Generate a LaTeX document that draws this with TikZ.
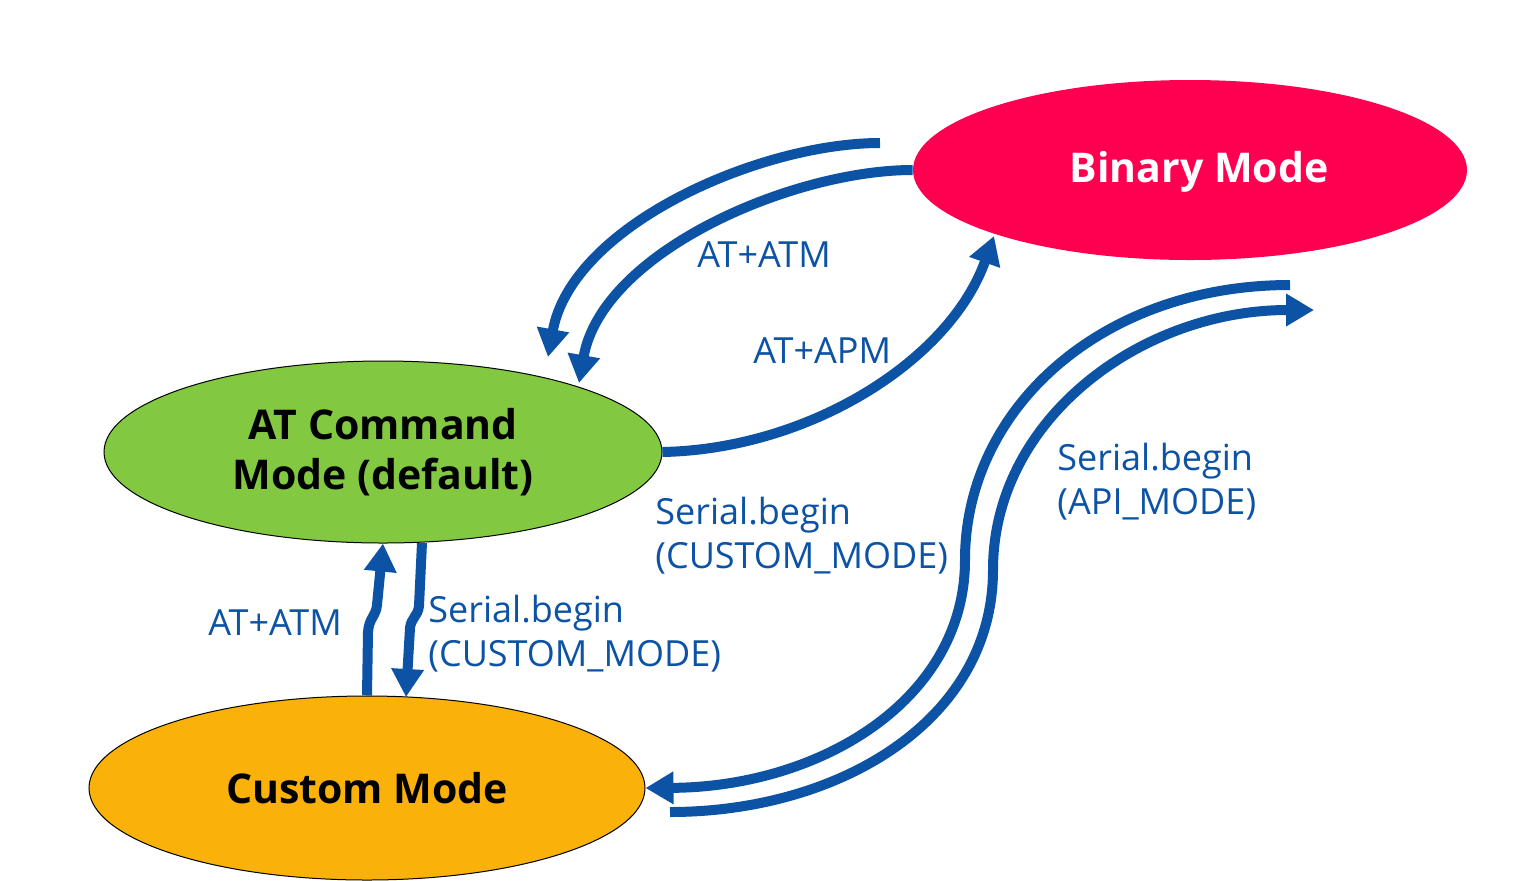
\documentclass[tikz,border=0pt]{standalone}
\usepackage{fontspec}
\setmainfont{Open Sans}
\usetikzlibrary{arrows.meta,shapes.geometric}
\definecolor{arrblue}{RGB}{12,82,165}
\definecolor{binred}{RGB}{255,0,80}
\definecolor{atgreen}{RGB}{130,201,65}
\definecolor{custorange}{RGB}{250,177,10}
\tikzset{
  modebox/.style={ellipse, inner sep=0pt, font=\fontsize{20.5}{25}\selectfont\bfseries, align=center},
  flow/.style={draw=arrblue, line width=5pt, -{Triangle[width=15.5pt,length=14pt]}},
  flowlabel/.style={text=arrblue, font=\fontsize{18}{22}\selectfont, align=left, anchor=base west, inner sep=0pt},
}
\begin{document}
\begin{tikzpicture}[x=0.5pt,y=-0.5pt]
\useasboundingbox (0,0) rectangle (1517,880);
% ellipses
\node[modebox, fill=binred, text=white, minimum width=277pt, minimum height=90pt] (binary) at (1190,170) {};
\node[font=\fontsize{20.5}{25}\selectfont\bfseries, text=white, inner sep=0pt] (bintext) at (1199,172) {Binary Mode};
\node[modebox, fill=atgreen, draw=black, line width=0.5pt, text=black, minimum width=279pt, minimum height=91pt] (atc) at (383,452) {AT Command\\Mode (default)};
\node[modebox, fill=custorange, draw=black, line width=0.5pt, text=black, minimum width=278pt, minimum height=92pt] (custom) at (367,788) {Custom Mode};
% free ends
\coordinate (o1) at (880,143);
\coordinate (t1) at (548,357);
\coordinate (t2) at (579,383);
\coordinate (t3) at (994,236);
\coordinate (s4) at (1290,285);
\coordinate (s5) at (670,812);
\coordinate (t5) at (1314,310);
\coordinate (s7) at (422,543);
% Binary -> AT
\draw[flow] (o1) .. controls (760,143) and (572,225) .. (t1);
\draw[flow] (binary.west) .. controls (792,170) and (602,252) .. (t2);
% AT -> Binary
\draw[flow] (atc.east) .. controls (810,449) and (950,360) .. (t3);
% Binary -> Custom (S curve)
\draw[flow] (s4) .. controls (1100,285) and (965,410) .. (965,560)
  .. controls (965,700) and (820,787) .. (custom.east);
% Custom -> Binary (S curve)
\draw[flow] (s5) .. controls (840,812) and (993,720) .. (993,570)
  .. controls (993,420) and (1140,310) .. (t5);
% Custom <-> AT vertical
\draw[flow] (custom.north) -- (368,632) .. controls (369,618) and (376,616) .. (377,605) -- (atc.south);
\draw[flow] (s7) -- (419,606) .. controls (418,616) and (411,618) .. (410,628) -- (406,697);
% labels
\node[flowlabel] (l1) at (697,267) {AT+ATM};
\node[flowlabel] (l2) at (753,363) {AT+APM};
\node[flowlabel] (l3) at (655,568) {Serial.begin\\(CUSTOM\_MODE)};
\node[flowlabel] (l4) at (1057,514) {Serial.begin\\(API\_MODE)};
\node[flowlabel] (l5) at (208,635) {AT+ATM};
\node[flowlabel] (l6) at (428,666) {Serial.begin\\(CUSTOM\_MODE)};
\end{tikzpicture}
\end{document}
